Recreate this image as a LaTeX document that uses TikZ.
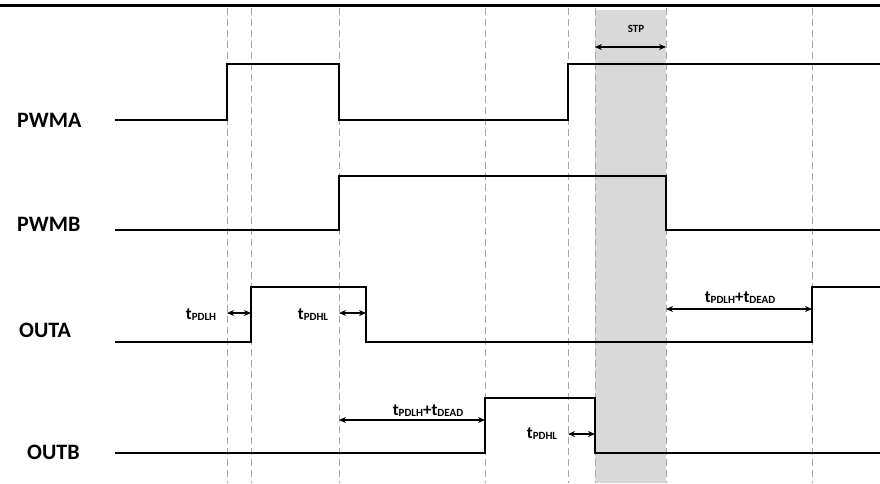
\documentclass[tikz,border=0pt]{standalone}
\usepackage{fontspec}
\setmainfont{Carlito}
\usetikzlibrary{arrows.meta}
\definecolor{bandcolor}{RGB}{217, 217, 217}
\definecolor{guidecolor}{RGB}{166, 166, 166}
\newcommand{\tdly}[1]{t\raisebox{-1pt}{\fontsize{11}{12}\selectfont #1}}

\begin{document}
\begin{tikzpicture}[x=1pt, y=-1pt,
    sig/.style={line width=1.6pt, black},
    guide/.style={guidecolor, line width=0.8pt, dash pattern=on 7pt off 4pt},
    dim/.style={line width=1.3pt, {Stealth[length=7pt,width=6pt]}-{Stealth[length=7pt,width=6pt]}},
    lbl/.style={anchor=base west, inner sep=0pt, font=\bfseries\fontsize{22}{26}\selectfont},
    tlbl/.style={anchor=base, inner sep=0pt, font=\bfseries\fontsize{17}{20}\selectfont}]
    \useasboundingbox (0,0) rectangle (880,483);

    % STP band
    \fill[bandcolor] (595,10) rectangle (666,483);

    % Guide lines
    \foreach \x in {227,251,339,485,568,595,666,812}
        \draw[guide] (\x,8) -- (\x,483);

    % Top rule
    \draw[line width=2.5pt] (0,5.3) -- (880,5.3);

    % Signal names
    \node[lbl] (pwma) at (17,127) {PWMA};
    \node[lbl] (pwmb) at (17,231) {PWMB};
    \node[lbl] (outa) at (19,337) {OUTA};
    \node[lbl] (outb) at (27,459) {OUTB};

    % Waveforms
    \draw[sig] (115,120) -| (227,64) -| (339,120) -| (568,64) -- (880,64);
    \draw[sig] (115,230) -| (339,176) -| (666,230) -- (880,230);
    \draw[sig] (115,342) -| (251,287) -| (366,342) -| (812,287) -- (880,287);
    \draw[sig] (115,453) -| (485,398) -| (595,453) -- (880,453);

    % Arrow ends
    \coordinate (stpL) at (595,47);
    \coordinate (stpR) at (666,47);
    \coordinate (aLHl) at (227,313);
    \coordinate (aLHr) at (251,313);
    \coordinate (aHLl) at (339,313);
    \coordinate (aHLr) at (366,313);
    \coordinate (aDTl) at (666,309);
    \coordinate (aDTr) at (812,309);
    \coordinate (bDTl) at (339,420);
    \coordinate (bDTr) at (485,420);
    \coordinate (bHLl) at (568,434);
    \coordinate (bHLr) at (595,434);

    \draw[dim] (stpL) -- (stpR);
    \draw[dim] (aLHl) -- (aLHr);
    \draw[dim] (aHLl) -- (aHLr);
    \draw[dim] (aDTl) -- (aDTr);
    \draw[dim] (bDTl) -- (bDTr);
    \draw[dim] (bHLl) -- (bHLr);

    % Timing labels
    \node[tlbl, font=\bfseries\fontsize{11}{12}\selectfont] (stp) at (636,32) {STP};
    \node[tlbl] (tlha) at (201,319) {\tdly{PDLH}};
    \node[tlbl] (thla) at (313,319) {\tdly{PDHL}};
    \node[tlbl] (tdta) at (740,302) {\tdly{PDLH}+\tdly{DEAD}};
    \node[tlbl] (tdtb) at (428,415) {\tdly{PDLH}+\tdly{DEAD}};
    \node[tlbl] (thlb) at (542,438) {\tdly{PDHL}};
\end{tikzpicture}
\end{document}
